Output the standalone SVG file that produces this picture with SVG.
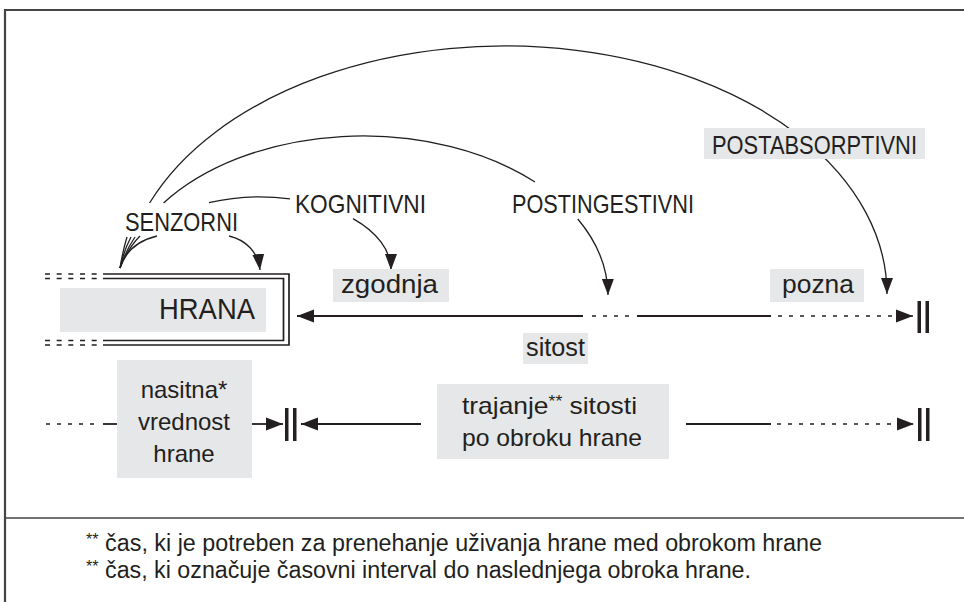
<svg xmlns="http://www.w3.org/2000/svg" width="964" height="602" viewBox="0 0 964 602">
<style>
.t{font-family:"Liberation Sans",Arial,sans-serif;fill:#231f20}
.lc{font-size:25px}
.cap{font-family:"Liberation Sans Narrow","Liberation Sans",Arial,sans-serif;font-size:26px;fill:#231f20}
.box{fill:#e6e7e8}
.ln{fill:none;stroke:#231f20;stroke-width:1.8}
.arc{fill:none;stroke:#231f20;stroke-width:1.3}
.dot{fill:none;stroke:#231f20;stroke-width:1.6;stroke-dasharray:4 7}
.dl{fill:none;stroke:#231f20;stroke-width:1.7}
.bar{fill:#231f20}
.frame{fill:none;stroke:#444;stroke-width:2.2}
.note{font-family:"Liberation Sans Narrow","Liberation Sans",Arial,sans-serif;font-size:23px;fill:#231f20}
</style>
<defs>
<marker id="ah" markerUnits="userSpaceOnUse" markerWidth="18" markerHeight="14" refX="17" refY="7" orient="auto"><path d="M0,0.5 L17,7 L0,13.5 Z" fill="#231f20"/></marker>
<marker id="as" markerUnits="userSpaceOnUse" markerWidth="17" markerHeight="13" refX="16" refY="6.5" orient="auto"><path d="M0,0.5 L16,6.5 L0,12.5 Z" fill="#231f20"/></marker>
</defs>

<g id="frame">
<path class="frame" d="M5,602 V10 H964"/>
<line x1="5" y1="518" x2="964" y2="518" stroke="#444" stroke-width="1.5"/>
</g>

<g id="connectors">
<path class="arc" d="M149.6,203 A382,248 0 0,1 887,294" marker-end="url(#as)"/>
<path class="arc" d="M163.6,203 A245,160 0 0,1 535,182"/>
<path class="arc" d="M577.8,219 A245,160 0 0,1 608,295" marker-end="url(#as)"/>
<path class="arc" d="M209,202.7 A131,73 0 0,1 290,198.9"/>
<path class="arc" d="M353,218.6 A131,73 0 0,1 391,270" marker-end="url(#as)"/>
<path class="arc" d="M229,236 C246,240 258,252 260,270" marker-end="url(#as)"/>
<path class="arc" d="M120,268 Q123,250 127,237"/>
<path class="arc" d="M120,268 Q124,250 131,237"/>
<path class="arc" d="M120,268 Q126,250 135,237"/>
<path class="arc" d="M120,268 Q128,248 140,236"/>
<path class="arc" d="M120,268 Q128,243 157,236"/>

<path class="ln" d="M583,316 H297" marker-end="url(#ah)"/>
<path class="dot" d="M592,316 H633"/>
<path class="ln" d="M637,316 H771"/>
<path class="dot" d="M778,316 H913" marker-end="url(#ah)"/>
<rect class="bar" x="917.5" y="301" width="3.5" height="32"/>
<rect class="bar" x="925.5" y="301" width="3.5" height="32"/>

<path class="dot" d="M46,424 H99"/>
<path class="ln" d="M103,424 H117"/>
<path class="ln" d="M252,424 H283" marker-end="url(#ah)"/>
<rect class="bar" x="285" y="408" width="3.5" height="33"/>
<rect class="bar" x="293" y="408" width="3.5" height="33"/>
<path class="ln" d="M421,424 H301" marker-end="url(#ah)"/>
<path class="ln" d="M686,424 H771"/>
<path class="dot" d="M777,424 H914" marker-end="url(#ah)"/>
<rect class="bar" x="918" y="408" width="3.5" height="33"/>
<rect class="bar" x="926" y="408" width="3.5" height="33"/>
</g>

<g id="hrana">
<path class="dl" d="M103,274 H289 V345 H103"/>
<path class="dl" d="M103,278.5 H283.5 V340.5 H103"/>
<path class="dl" stroke-dasharray="5 6.67" d="M45,274 H97 M45,278.5 H97 M45,340.5 H97 M45,345 H97"/>
<rect class="box" x="60" y="288" width="206" height="44"/>
<text class="t" x="255" y="319" font-size="29" text-anchor="end" textLength="96" lengthAdjust="spacingAndGlyphs">HRANA</text>
</g>

<g id="senzorni">
<text class="cap" x="125" y="231" textLength="113" lengthAdjust="spacingAndGlyphs">SENZORNI</text>
</g>

<g id="kognitivni">
<text class="cap" x="295" y="213" textLength="131" lengthAdjust="spacingAndGlyphs">KOGNITIVNI</text>
</g>

<g id="postingestivni">
<text class="cap" x="512" y="213" textLength="182" lengthAdjust="spacingAndGlyphs">POSTINGESTIVNI</text>
</g>

<g id="postabsorptivni">
<rect class="box" x="704" y="128" width="221" height="31"/>
<text class="cap" x="712" y="154" textLength="205" lengthAdjust="spacingAndGlyphs">POSTABSORPTIVNI</text>
</g>

<g id="zgodnja">
<rect class="box" x="333" y="269" width="116" height="33"/>
<text class="t lc" x="341" y="293" textLength="97" lengthAdjust="spacingAndGlyphs">zgodnja</text>
</g>

<g id="pozna">
<rect class="box" x="770" y="269" width="94" height="33"/>
<text class="t lc" x="782" y="293" textLength="72" lengthAdjust="spacingAndGlyphs">pozna</text>
</g>

<g id="sitost">
<rect class="box" x="523" y="333" width="65" height="31"/>
<text class="t lc" x="526" y="356" textLength="59" lengthAdjust="spacingAndGlyphs">sitost</text>
</g>

<g id="nasitna">
<rect class="box" x="117" y="360" width="135" height="118"/>
<text class="t" font-size="24" text-anchor="middle" x="184" y="398">nasitna*</text>
<text class="t" font-size="24" text-anchor="middle" x="184" y="430">vrednost</text>
<text class="t" font-size="24" text-anchor="middle" x="184" y="462">hrane</text>
</g>

<g id="trajanje">
<rect class="box" x="437" y="384" width="232" height="75"/>
<text class="t" font-size="24" x="462" y="414" textLength="175" lengthAdjust="spacingAndGlyphs">trajanje<tspan font-size="16" dy="-7">**</tspan><tspan dy="7"> sitosti</tspan></text>
<text class="t" font-size="24" x="462" y="446" textLength="180" lengthAdjust="spacingAndGlyphs">po obroku hrane</text>
</g>

<g id="footnotes">
<text class="note" x="86" y="551" textLength="736" lengthAdjust="spacingAndGlyphs"><tspan font-size="16" dy="-6">**</tspan><tspan dy="6"> čas, ki je potreben za prenehanje uživanja hrane med obrokom hrane</tspan></text>
<text class="note" x="86" y="578" textLength="665" lengthAdjust="spacingAndGlyphs"><tspan font-size="16" dy="-6">**</tspan><tspan dy="6"> čas, ki označuje časovni interval do naslednjega obroka hrane.</tspan></text>
</g>
</svg>
